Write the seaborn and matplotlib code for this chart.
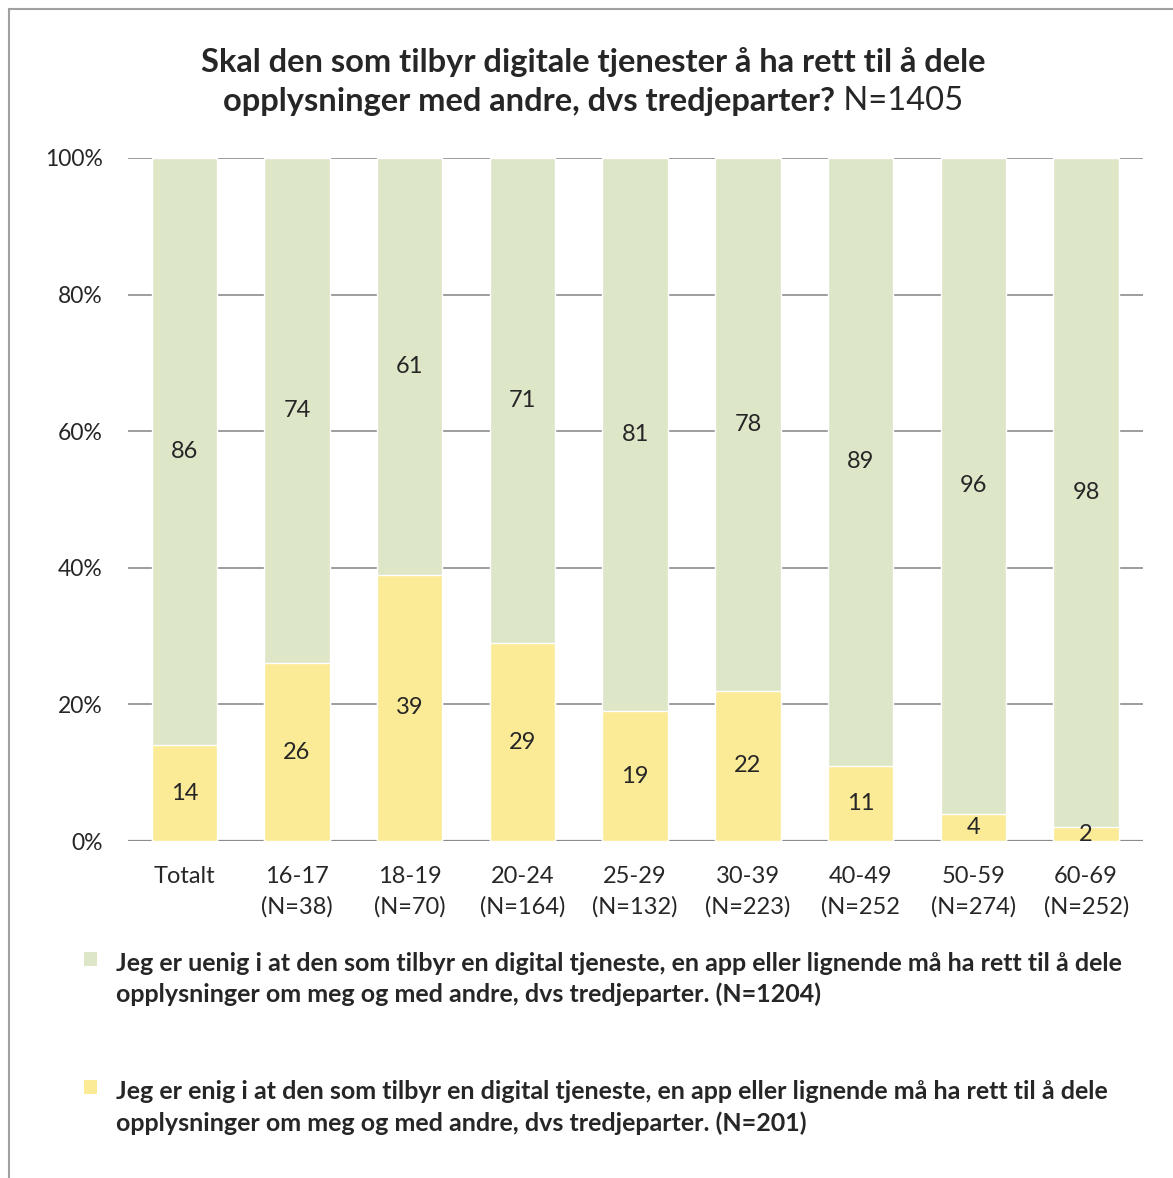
import numpy as np
import pandas as pd
import matplotlib
matplotlib.use("Agg")
import matplotlib.pyplot as plt
import seaborn as sns
from matplotlib.patches import Rectangle

# Data
categories = ['Totalt', '16-17\n(N=38)', '18-19\n(N=70)', '20-24\n(N=164)', '25-29\n(N=132)',
              '30-39\n(N=223)', '40-49\n(N=252', '50-59\n(N=274)', '60-69\n(N=252)']
uenig = [86, 74, 61, 71, 81, 78, 89, 96, 98]
enig = [14, 26, 39, 29, 19, 22, 11, 4, 2]
legend_labels = [
    'Jeg er uenig i at den som tilbyr en digital tjeneste, en app eller lignende må ha rett til å dele\n'
    'opplysninger om meg og med andre, dvs tredjeparter. (N=1204)',
    'Jeg er enig i at den som tilbyr en digital tjeneste, en app eller lignende må ha rett til å dele\n'
    'opplysninger om meg og med andre, dvs tredjeparter. (N=201)',
]
yticks = [0, 20, 40, 60, 80, 100]

green = '#dee6c8'
yellow = '#fbeb97'

sns.set_style("white")
plt.rcParams['font.family'] = ['Lato', 'DejaVu Sans']

df = pd.DataFrame({'cat': categories, 'uenig': uenig, 'enig': enig})
df['total'] = df['uenig'] + df['enig']

fig = plt.figure(figsize=(11.73, 11.78), dpi=100)
ax = fig.add_axes([0.109, 0.286, 0.865, 0.580])

# stacked bars: full height green, yellow on top from zero
sns.barplot(data=df, x='cat', y='total', color=green, width=0.58, ax=ax, zorder=3, saturation=1)
sns.barplot(data=df, x='cat', y='enig', color=yellow, width=0.58, ax=ax, zorder=4, saturation=1)

for i, (u, e) in enumerate(zip(uenig, enig)):
    ax.text(i, e / 2, str(e), ha='center', va='center', fontsize=17, zorder=5)
    ax.text(i, e + u / 2, str(u), ha='center', va='center', fontsize=17, zorder=5)

ax.set_ylim(0, 100)
ax.set_xlim(-0.5, len(categories) - 0.5)
ax.set_yticks(yticks)
ax.set_yticklabels([f'{t}%' for t in yticks], fontsize=16.5)
ax.tick_params(axis='y', length=0, pad=18)
ax.tick_params(axis='x', length=0, pad=18, labelsize=17)
for lbl in ax.get_xticklabels():
    lbl.set_linespacing(1.5)
ax.set_xlabel('')
ax.set_ylabel('')
for s in ax.spines.values():
    s.set_visible(False)
for t in yticks:
    ax.axhline(t, color='#8c8c8c', lw=1.6 if t == 0 else 1.2, zorder=1)

# Title (bold + normal on second line)
fig.text(0.506, 0.947, 'Skal den som tilbyr digitale tjenester å ha rett til å dele',
         ha='center', va='center', fontsize=23.5, weight='bold')
t_bold = fig.text(0, 0.914, 'opplysninger med andre, dvs tredjeparter?',
                  ha='left', va='center', fontsize=23.5, weight='bold')
t_norm = fig.text(0, 0.914, ' N=1405', ha='left', va='center', fontsize=23.5)
renderer = fig.canvas.get_renderer()
w_bold = t_bold.get_window_extent(renderer).width / fig.bbox.width
w_norm = t_norm.get_window_extent(renderer).width / fig.bbox.width
x0 = 0.506 - (w_bold + w_norm) / 2
t_bold.set_x(x0)
t_norm.set_x(x0 + w_bold)

# Legend
for y, lab, col in zip([0.169, 0.060], legend_labels, [green, yellow]):
    fig.patches.append(Rectangle((0.072, y + 0.011), 0.011, 0.012, transform=fig.transFigure,
                                 facecolor=col, edgecolor='none'))
    fig.text(0.099, y, lab, ha='left', va='center', fontsize=18, weight='bold', linespacing=1.4)

# chart area border (left and top)
fig.patches.append(Rectangle((0.008, -0.1), 1.2, 1.092, transform=fig.transFigure,
                             facecolor='none', edgecolor='#a0a0a0', lw=1.5))

fig.savefig('out.png', dpi=100)
